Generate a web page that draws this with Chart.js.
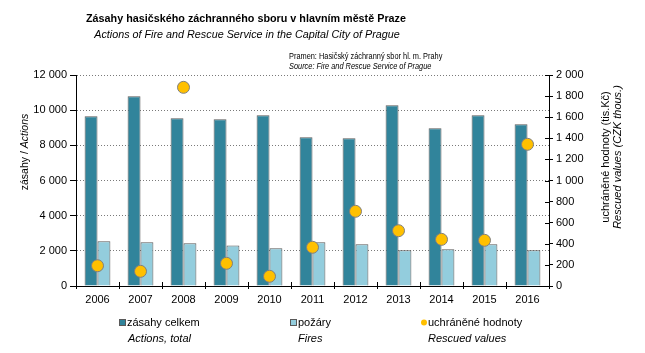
<!DOCTYPE html>
<html>
<head>
<meta charset="utf-8">
<script src="https://cdn.jsdelivr.net/npm/chart.js@4"></script>
<style>
  body { margin: 0; background: #fff; }
  canvas { display: block; }
</style>
</head>
<body>
<canvas id="chart" width="645" height="353"></canvas>
<script>
// Data
const years = ['2006', '2007', '2008', '2009', '2010', '2011', '2012', '2013', '2014', '2015', '2016'];
const actionsTotal = [9650, 10790, 9540, 9480, 9710, 8460, 8400, 10280, 8970, 9710, 9200];
const fires = [2540, 2490, 2430, 2310, 2140, 2490, 2370, 2030, 2090, 2370, 2030];
const rescuedValues = [192, 139, 1883, 215, 92, 367, 708, 524, 442, 433, 1343];

const leftTicks = [0, 2000, 4000, 6000, 8000, 10000, 12000];
const rightTicks = [0, 200, 400, 600, 800, 1000, 1200, 1400, 1600, 1800, 2000];

const DARK = '#31849b';
const LIGHT = '#93cddd';
const GOLD = '#ffc000';
const EDGE = '#595959';
const FONT = "'Liberation Sans', Arial, sans-serif";

const fmt = v => v >= 1000 ? Math.floor(v / 1000) + ' ' + String(v % 1000).padStart(3, '0') : String(v);

// text helper, sx squeezes the text horizontally (narrow font look)
function text(ctx, str, x, y, font, align, sx) {
    ctx.save();
    ctx.font = font;
    ctx.fillStyle = '#000';
    ctx.textBaseline = 'alphabetic';
    ctx.translate(x, y);
    ctx.scale(sx || 1, 1);
    ctx.textAlign = align || 'left';
    ctx.fillText(str, 0, 0);
    ctx.restore();
}

const decorPlugin = {
    id: 'decor',
    afterDraw(chart) {
        const ctx = chart.ctx;
        const area = chart.chartArea;

        // titles
        text(ctx, 'Zásahy hasičského záchranného sboru v hlavním městě Praze', 246, 22, 'bold 11px ' + FONT, 'center', 0.98);
        text(ctx, 'Actions of Fire and Rescue Service in the Capital City of Prague', 247, 38, 'italic 11px ' + FONT, 'center', 0.98);
        text(ctx, 'Pramen: Hasičský záchranný sbor hl. m. Prahy', 289, 59, '9px ' + FONT, 'left', 0.82);
        text(ctx, 'Source: Fire and Rescue Service of Prague', 289, 69, 'italic 9px ' + FONT, 'left', 0.82);

        // left axis title
        ctx.save();
        ctx.translate(28, 152);
        ctx.rotate(-Math.PI / 2);
        const p1 = 'zásahy / ';
        const p2 = 'Actions';
        ctx.font = '10.5px ' + FONT;
        const w1 = ctx.measureText(p1).width;
        ctx.font = 'italic 10.5px ' + FONT;
        const w2 = ctx.measureText(p2).width;
        ctx.fillStyle = '#000';
        ctx.font = '10.5px ' + FONT;
        ctx.fillText(p1, -(w1 + w2) / 2, 0);
        ctx.font = 'italic 10.5px ' + FONT;
        ctx.fillText(p2, -(w1 + w2) / 2 + w1, 0);
        ctx.restore();

        // right axis title
        ctx.save();
        ctx.translate(609, 157);
        ctx.rotate(-Math.PI / 2);
        ctx.textAlign = 'center';
        ctx.fillStyle = '#000';
        ctx.font = '11px ' + FONT;
        ctx.fillText('uchráněné hodnoty (tis.Kč)', 0, 0);
        ctx.font = 'italic 11px ' + FONT;
        ctx.fillText('Rescued values (CZK thous.)', 0, 12);
        ctx.restore();

        // inner halves of ticks on the x axis and the right axis
        ctx.save();
        ctx.strokeStyle = '#000';
        ctx.lineWidth = 1;
        ctx.beginPath();
        const xs = chart.scales.x;
        const step = xs.width / years.length;
        for (let i = 0; i <= years.length; i++) {
            const px = Math.round(xs.left + i * step) + 0.5;
            ctx.moveTo(px, area.bottom);
            ctx.lineTo(px, area.bottom - 4);
        }
        const ys = chart.scales.y1;
        ys.ticks.forEach((t, i) => {
            const py = Math.round(ys.getPixelForTick(i)) + 0.5;
            ctx.moveTo(area.right, py);
            ctx.lineTo(area.right - 4, py);
        });
        ctx.stroke();
        ctx.restore();

        // legend
        const ly = 326;
        ctx.save();
        ctx.strokeStyle = EDGE;
        ctx.fillStyle = DARK;
        ctx.fillRect(119, ly - 7, 7, 7);
        ctx.strokeRect(119.5, ly - 6.5, 6, 6);
        ctx.fillStyle = LIGHT;
        ctx.fillRect(290, ly - 7, 7, 7);
        ctx.strokeRect(290.5, ly - 6.5, 6, 6);
        ctx.fillStyle = GOLD;
        ctx.beginPath();
        ctx.arc(424, ly - 3.5, 3, 0, Math.PI * 2);
        ctx.fill();
        ctx.restore();
        text(ctx, 'zásahy celkem', 127, ly, '11px ' + FONT);
        text(ctx, 'Actions, total', 128, 342, 'italic 11px ' + FONT);
        text(ctx, 'požáry', 298, ly, '11px ' + FONT);
        text(ctx, 'Fires', 298, 342, 'italic 11px ' + FONT);
        text(ctx, 'uchráněné hodnoty', 428, ly, '11px ' + FONT);
        text(ctx, 'Rescued values', 428, 342, 'italic 11px ' + FONT);
    }
};

Chart.defaults.font.family = FONT;
Chart.defaults.font.size = 11;
Chart.defaults.color = '#000';

new Chart(document.getElementById('chart'), {
    type: 'bar',
    data: {
        labels: years,
        datasets: [
            {
                label: 'zásahy celkem',
                data: actionsTotal,
                backgroundColor: DARK,
                borderColor: EDGE,
                borderWidth: 1,
                yAxisID: 'y',
                order: 2,
                categoryPercentage: 0.6,
                barPercentage: 1.0
            },
            {
                label: 'požáry',
                data: fires,
                backgroundColor: LIGHT,
                borderColor: EDGE,
                borderWidth: 1,
                yAxisID: 'y',
                order: 2,
                categoryPercentage: 0.6,
                barPercentage: 1.0
            },
            {
                type: 'line',
                label: 'uchráněné hodnoty',
                data: rescuedValues,
                showLine: false,
                pointRadius: 6,
                pointBackgroundColor: GOLD,
                pointBorderColor: '#7f7f7f',
                pointBorderWidth: 1,
                yAxisID: 'y1',
                order: 1
            }
        ]
    },
    options: {
        responsive: false,
        animation: false,
        layout: { padding: { top: 75, left: 0, right: 0, bottom: 0 } },
        plugins: {
            legend: { display: false },
            tooltip: { enabled: false }
        },
        scales: {
            x: {
                grid: {
                    drawOnChartArea: false,
                    tickColor: '#000',
                    tickLength: 3
                },
                border: { color: '#000', width: 1 },
                ticks: { padding: 4, font: { size: 11 } },
                afterFit: s => { s.height = 67; }
            },
            y: {
                position: 'left',
                min: 0,
                max: 12000,
                afterBuildTicks: s => { s.ticks = leftTicks.map(v => ({ value: v })); },
                ticks: { callback: v => fmt(v), padding: 3 },
                grid: {
                    color: '#7a7a7a',
                    tickColor: '#000',
                    tickLength: 6,
                    tickBorderDash: []
                },
                border: { color: '#000', width: 1, dash: [1, 2] },
                afterFit: s => { s.width = 76; }
            },
            y1: {
                position: 'right',
                min: 0,
                max: 2000,
                afterBuildTicks: s => { s.ticks = rightTicks.map(v => ({ value: v })); },
                ticks: { callback: v => fmt(v), padding: 3 },
                grid: {
                    drawOnChartArea: false,
                    tickColor: '#000',
                    tickLength: 4
                },
                border: { color: '#000', width: 1 },
                afterFit: s => { s.width = 96; }
            }
        }
    },
    plugins: [decorPlugin]
});
</script>
</body>
</html>
